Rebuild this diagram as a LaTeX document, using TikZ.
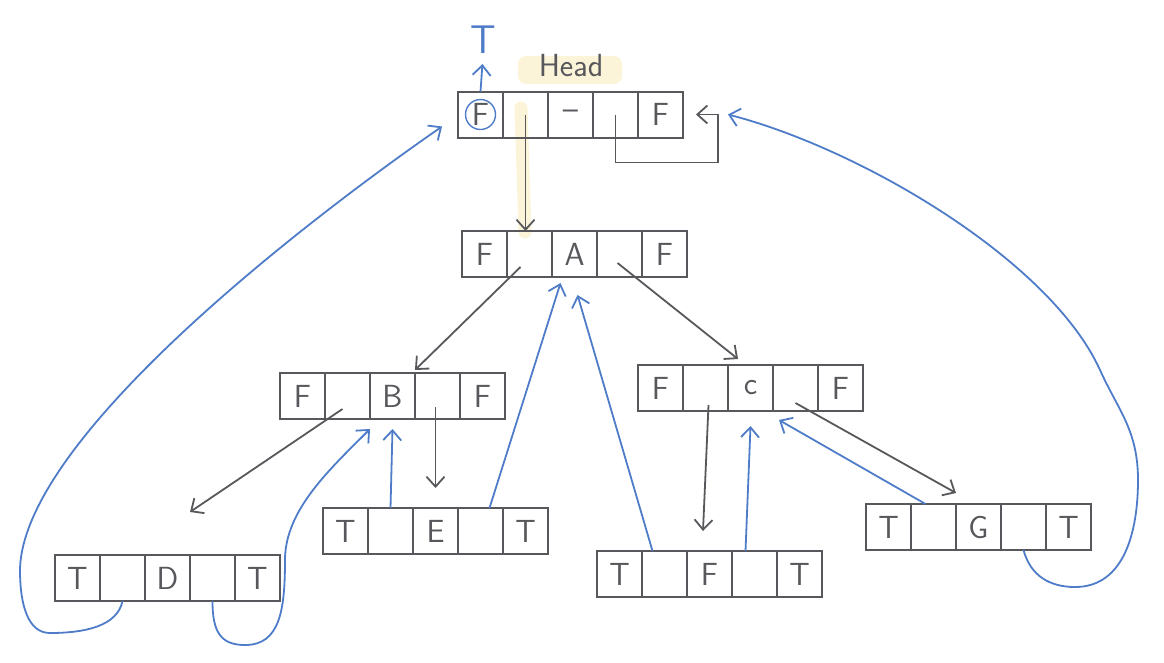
\documentclass[tikz,border=0pt]{standalone}
\usepackage{tikz}
\usetikzlibrary{arrows.meta,positioning,calc}

\definecolor{pencil}{RGB}{88,88,92}
\definecolor{ink}{RGB}{78,124,200}
\definecolor{marker}{RGB}{245,220,130}

\tikzset{
  cell/.style={draw=pencil, line width=2pt, minimum width=45pt, minimum height=46pt,
    inner sep=0pt, outer sep=0pt, text=pencil, font=\sffamily\fontsize{32}{36}\selectfont},
  link/.style={draw=pencil, line width=1.8pt, -{Straight Barb[length=10pt,width=18pt]}},
  thread/.style={draw=ink, line width=1.8pt, -{Straight Barb[length=10pt,width=18pt]}},
}

% one record: name, centre of first cell, five fields
\newcommand{\record}[7]{%
  \node[cell] (#11) at (#2) {#3};
  \node[cell, right=0pt of #11] (#12) {#4};
  \node[cell, right=0pt of #12] (#13) {#5};
  \node[cell, right=0pt of #13] (#14) {#6};
  \node[cell, right=0pt of #14] (#15) {#7};
}

\begin{document}
\begin{tikzpicture}[x=1pt, y=-1pt]
    \useasboundingbox (0,0) rectangle (1164,662);
    % marker smudges
    \fill[marker, opacity=0.3, rounded corners=8pt] (518,56) rectangle (622,84);
    \draw[marker, opacity=0.3, line width=13pt, line cap=round] (521,108) -- (525,232);
    % records
    \record{h}{480.5,114.5}{F}{}{--}{}{F}
    \record{a}{484.5,254}{F}{}{A}{}{F}
    \record{b}{302.5,396}{F}{}{B}{}{F}
    \record{c}{660.5,388}{F}{}{c}{}{F}
    \record{d}{77.5,578}{T}{}{D}{}{T}
    \record{e}{345.5,531}{T}{}{E}{}{T}
    \record{f}{619.5,574}{T}{}{F}{}{T}
    \record{g}{888.5,527}{T}{}{G}{}{T}
    % head label and its flag
    \node[text=pencil, font=\sffamily\fontsize{32}{36}\selectfont] (hl) at (571,66) {Head};
    \node[text=ink, inner sep=2pt, font=\sffamily\fontsize{40}{44}\selectfont] (ht) at (483,40) {T};
    \draw[ink, line width=1.4pt] (h1.center) circle (15pt);
    \draw[thread, shorten >=8pt] (h1.north) -- (ht.south);
    % tree links
    \draw[link] (h2.center) -- (h2.center |- a2.north);
    \draw[link] ([xshift=-9pt,yshift=-13pt]a2.center) -- ([yshift=3pt]b3.north east);
    \draw[link] ([xshift=-2pt,yshift=-9pt]a4.center) -- ([xshift=10pt,yshift=6pt]c2.north east);
    \draw[link] ([xshift=-5pt,yshift=-13pt]b2.center) -- ([yshift=43pt]d3.north east);
    \draw[link] ([xshift=-2pt,yshift=-11pt]b4.center) -- ([yshift=20pt]e3.north);
    \draw[link] ([xshift=3pt,yshift=-17pt]c2.center) -- ([xshift=16pt,yshift=20pt]f3.north west);
    \draw[link] ([yshift=-15pt]c4.center) -- ([yshift=11pt]g2.north east);
    % head points back to itself
    \draw[link] (h4.center) -- ([yshift=-48pt]h4.center) -| ([xshift=35pt]h5.east) -- ([xshift=13pt]h5.east);
    % threads
    \draw[thread] (d2.south) .. controls +(-5,25) and +(35,0) .. (50,633)
      .. controls +(-22,0) and +(0,35) .. (20,570)
      .. controls (22,440) and (300,225) .. ([xshift=-16pt,yshift=-12pt]h1.west);
    \draw[thread] (d4.south) .. controls +(0,30) and +(-25,0) .. (245,645)
      .. controls +(35,0) and +(0,50) .. (285,560)
      .. controls +(0,-50) and +(-40,40) .. ([yshift=-10pt]b2.south east);
    \draw[thread] (e2.north) -- ([yshift=-10pt]b3.south);
    \draw[thread] ([xshift=9pt]e4.north) -- ([xshift=-14pt,yshift=-6pt]a3.south);
    \draw[thread] ([xshift=-12pt]f2.north) -- ([xshift=3pt,yshift=-18pt]a3.south);
    \draw[thread] ([xshift=-9pt]f4.north) -- ([yshift=-15pt]c3.south);
    \draw[thread] ([xshift=-8pt]g2.north) -- ([xshift=6pt,yshift=-9pt]c3.south east);
    \draw[thread] (g4.south) .. controls +(7,26) and +(-25,0) .. (1075,587)
      .. controls +(50,0) and +(0,50) .. (1138,480)
      .. controls +(0,-50) and +(18,40) .. (1100,370)
      .. controls +(-50,-110) and +(132,34) .. ([xshift=45pt]h5.east);
\end{tikzpicture}
\end{document}
